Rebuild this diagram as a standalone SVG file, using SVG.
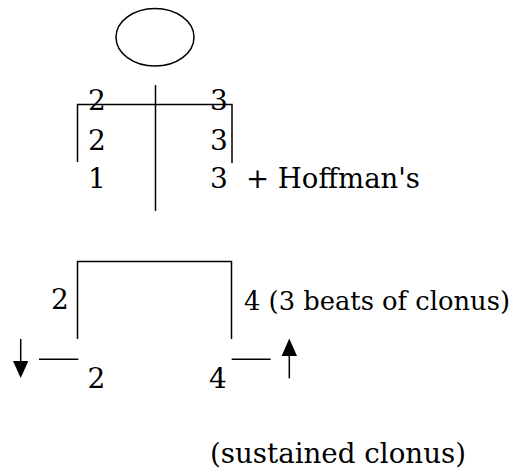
<svg xmlns="http://www.w3.org/2000/svg" width="527" height="475" viewBox="0 0 527 475">
<style>
.ln{stroke:#000;stroke-width:1.5;fill:none}
.ah{fill:#000;stroke:none}
text{font-family:"DejaVu Serif","Liberation Serif",serif;font-size:28px;fill:#000}
.sm{font-size:26.5px}
</style>
<rect width="527" height="475" fill="#fff"/>
<g id="head"><ellipse class="ln" cx="155" cy="37.3" rx="39" ry="28.8"/></g>
<g id="connectors">
<line class="ln" x1="155.5" y1="85" x2="155.5" y2="211"/>
<polyline class="ln" points="77.5,162 77.5,104.5 232,104.5 232,163"/>
<polyline class="ln" points="77.5,339 77.5,261.5 231.5,261.5 231.5,339"/>
<line class="ln" x1="39" y1="359.3" x2="78.3" y2="359.3"/>
<line class="ln" x1="231.7" y1="359.3" x2="270.7" y2="359.3"/>
<line class="ln" x1="20.7" y1="339" x2="20.7" y2="365"/>
<path class="ah" d="M13,361 L28.4,361 L20.7,378 z"/>
<line class="ln" x1="289.3" y1="378.3" x2="289.3" y2="352"/>
<path class="ah" d="M281.6,356 L297,356 L289.3,338.5 z"/>
</g>
<g id="upper-left">
<text x="88" y="110">2</text>
<text x="88" y="150">2</text>
<text x="88" y="188">1</text>
</g>
<g id="upper-right">
<text x="210" y="110">3</text>
<text x="210" y="150">3</text>
<text x="210" y="188">3</text>
<text x="246" y="188" textLength="174" lengthAdjust="spacingAndGlyphs">+ Hoffman's</text>
</g>
<g id="lower-left">
<text x="51" y="309">2</text>
<text x="87.5" y="388">2</text>
</g>
<g id="lower-right">
<text class="sm" x="244" y="310" textLength="266" lengthAdjust="spacingAndGlyphs">4 (3 beats of clonus)</text>
<text x="209" y="388">4</text>
</g>
<g id="note">
<text x="210" y="463" textLength="256" lengthAdjust="spacingAndGlyphs">(sustained clonus)</text>
</g>
</svg>
